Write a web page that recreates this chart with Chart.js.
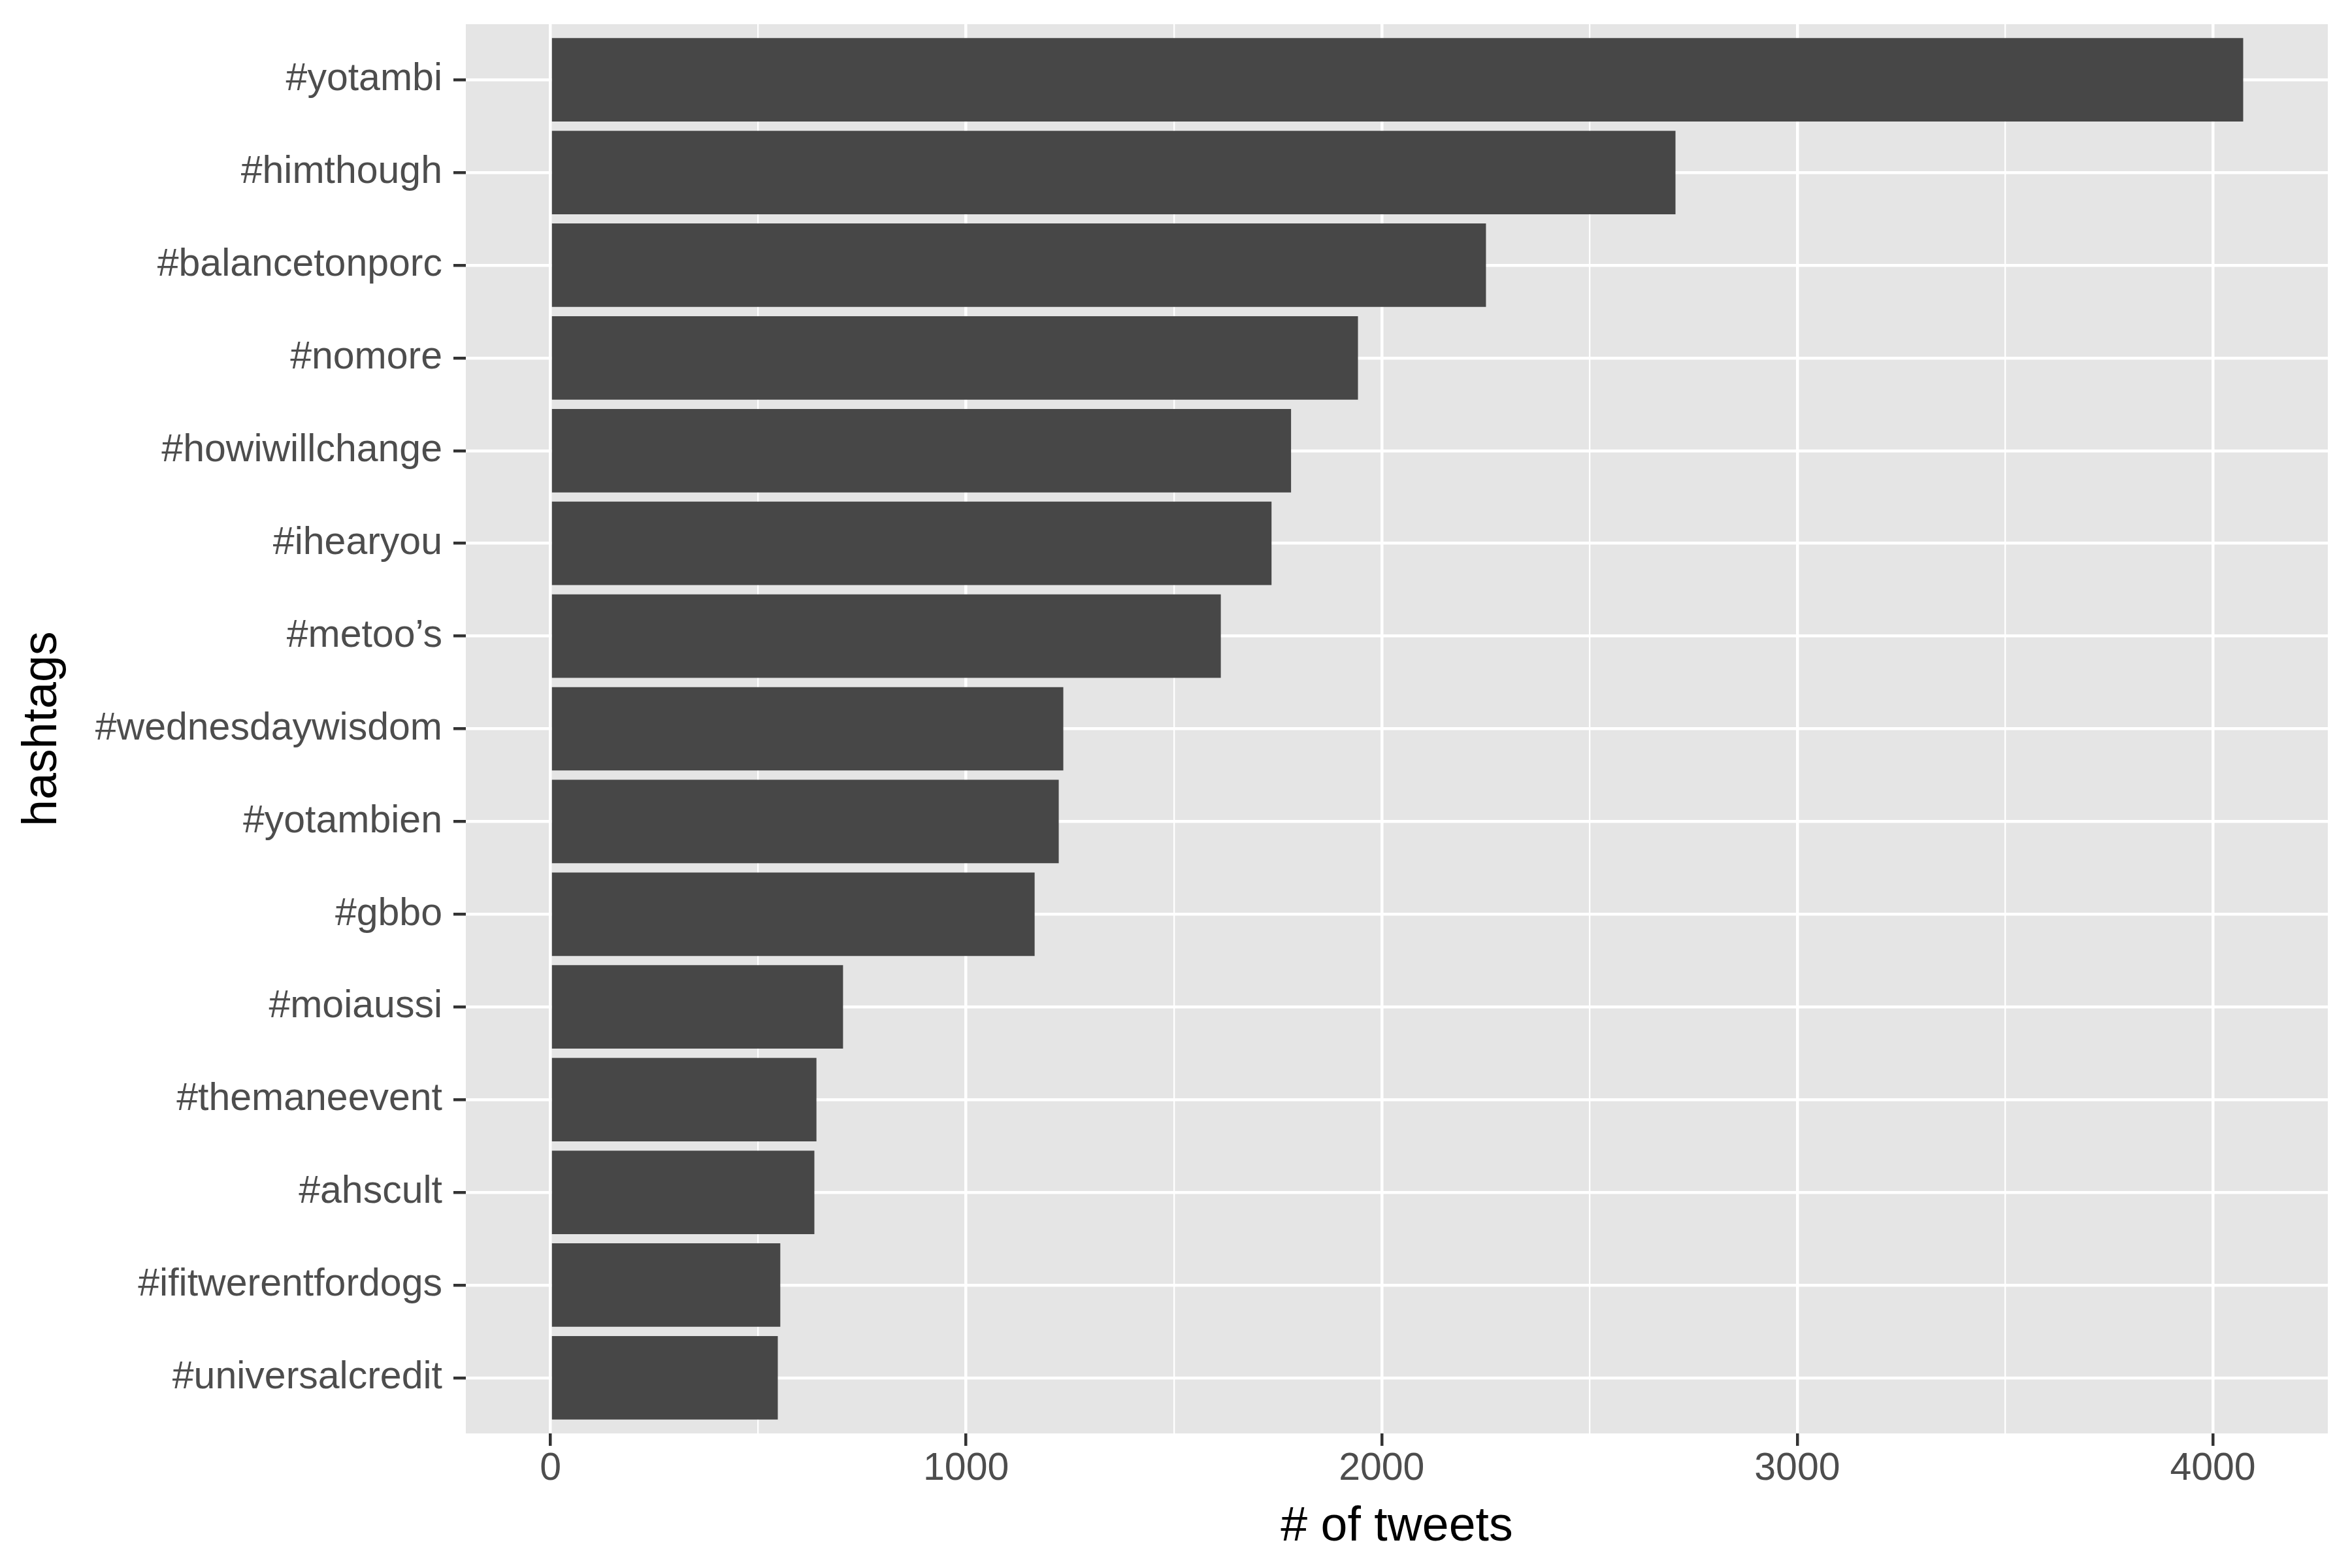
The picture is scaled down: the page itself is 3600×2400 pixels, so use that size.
<!DOCTYPE html>
<html>
<head>
<meta charset="utf-8">
<title>hashtags</title>
<script src="https://cdn.jsdelivr.net/npm/chart.js@4/dist/chart.umd.min.js"></script>
<style>
  body { margin: 0; background: #ffffff; }
</style>
</head>
<body>
<canvas id="hashtagChart" width="3600" height="2400"></canvas>
<script>
// dados
const hashtags = [
  "#yotambi", "#himthough", "#balancetonporc", "#nomore", "#howiwillchange",
  "#ihearyou", "#metoo\u2019s", "#wednesdaywisdom", "#yotambien", "#gbbo",
  "#moiaussi", "#themaneevent", "#ahscult", "#ifitwerentfordogs", "#universalcredit"
];
const tweetCounts = [4073, 2707, 2251, 1943, 1782, 1735, 1613, 1234, 1223, 1165, 704, 640, 635, 553, 547];
const xTickLabels = [0, 1000, 2000, 3000, 4000];
const xMinorTicks = [500, 1500, 2500, 3500];

const FONT = "'Liberation Sans', Arial, Helvetica, sans-serif";
Chart.defaults.font.family = FONT;

// fundo cinza do painel (estilo ggplot)
const panelBackground = {
  id: "panelBackground",
  beforeDraw(chart) {
    const { ctx, chartArea } = chart;
    ctx.save();
    ctx.fillStyle = "#E5E5E5";
    ctx.fillRect(chartArea.left, chartArea.top, chartArea.right - chartArea.left, chartArea.bottom - chartArea.top);
    ctx.restore();
  }
};

function isMajor(value) {
  return xTickLabels.includes(value);
}

function drawHashtagChart() {
  const maxCount = Math.max(...tweetCounts);
  const ctx = document.getElementById("hashtagChart").getContext("2d");

  new Chart(ctx, {
    type: "bar",
    data: {
      datasets: [
        {
          data: tweetCounts.map((v, i) => ({ x: v, y: i })),
          backgroundColor: "#474747",
          borderWidth: 0,
          barPercentage: 0.9,
          categoryPercentage: 1,
        },
      ],
    },
    options: {
      indexAxis: "y",
      responsive: false,
      animation: false,
      devicePixelRatio: 1,
      layout: { padding: { top: 37, right: 37, bottom: 0, left: 0 } },
      plugins: {
        legend: { display: false },
        tooltip: { enabled: false },
      },
      scales: {
        x: {
          type: "linear",
          min: -0.05 * maxCount,
          max: 1.05 * maxCount,
          afterBuildTicks: (scale) => {
            scale.ticks = xTickLabels.concat(xMinorTicks).sort((a, b) => a - b).map((v) => ({ value: v }));
          },
          afterFit: (scale) => {
            scale.height = 206;
            scale.paddingLeft = 0;
            scale.paddingRight = 0;
          },
          border: { display: false },
          grid: {
            color: "#FFFFFF",
            lineWidth: (c) => (isMajor(c.tick.value) ? 4.5 : 2.3),
            tickColor: (c) => (isMajor(c.tick.value) ? "#333333" : "rgba(0,0,0,0)"),
            tickLength: 19,
            tickWidth: 4.5,
          },
          ticks: {
            callback: (v) => (isMajor(v) ? String(v) : ""),
            color: "#4D4D4D",
            font: { size: 59 },
            padding: 0,
            maxRotation: 0,
            autoSkip: false,
          },
          title: {
            display: true,
            text: "# of tweets",
            color: "#000000",
            font: { size: 73.5 },
            padding: { top: 0, bottom: 18 },
          },
        },
        y: {
          type: "linear",
          reverse: true,
          offset: false,
          min: -0.6,
          max: hashtags.length - 0.4,
          afterBuildTicks: (scale) => {
            scale.ticks = hashtags.map((h, i) => ({ value: i }));
          },
          afterFit: (scale) => {
            scale.width = 713;
            scale.paddingTop = 0;
            scale.paddingBottom = 0;
          },
          border: { display: false },
          grid: {
            offset: false,
            color: "#FFFFFF",
            lineWidth: 4.5,
            tickColor: "#333333",
            tickLength: 19,
            tickWidth: 4.5,
          },
          ticks: {
            callback: (v) => hashtags[v],
            color: "#4D4D4D",
            font: { size: 59 },
            padding: 17,
            autoSkip: false,
          },
          title: {
            display: true,
            text: "hashtags",
            color: "#000000",
            font: { size: 73.5 },
            padding: { top: 22, bottom: 0 },
          },
        },
      },
    },
    plugins: [panelBackground],
  });
}

drawHashtagChart();
</script>
</body>
</html>
